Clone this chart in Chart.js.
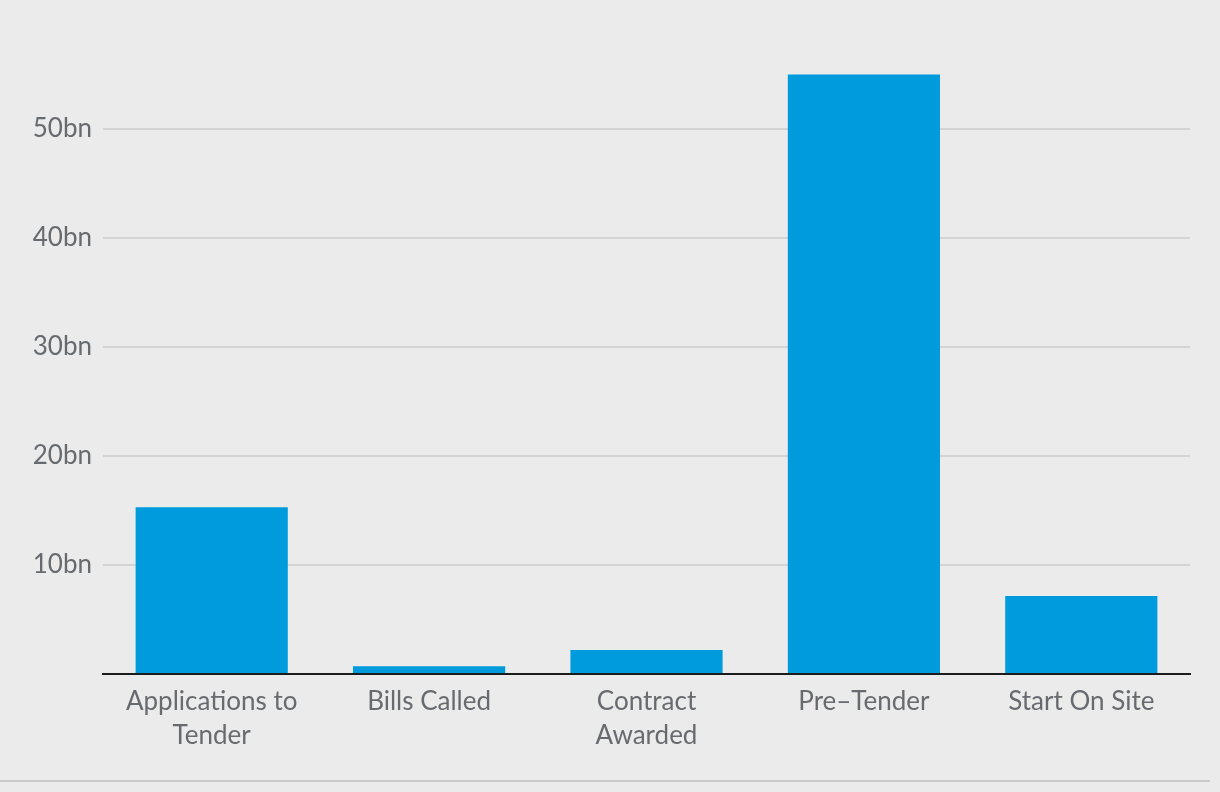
<!DOCTYPE html>
<html>
<head>
<meta charset="utf-8">
<script src="https://cdn.jsdelivr.net/npm/chart.js@4"></script>
<style>
  html, body { margin: 0; padding: 0; background: #ebebeb; }
  #wrap { width: 1220px; height: 792px; position: relative; }
</style>
</head>
<body>
<div id="wrap"><canvas id="barChart"></canvas></div>
<script>
const categories = [["Applications to", "Tender"], "Bills Called", ["Contract", "Awarded"], "Pre–Tender", "Start On Site"];
const values = [15.3, 0.7, 2.2, 55.0, 7.15];
const yTicks = [10, 20, 30, 40, 50];

// line under the whole chart
const bottomRule = {
  id: "bottomRule",
  afterDraw(chart) {
    const ctx = chart.ctx;
    ctx.save();
    ctx.strokeStyle = "#c9c9c9";
    ctx.lineWidth = 2;
    ctx.beginPath();
    ctx.moveTo(0, 781);
    ctx.lineTo(1210, 781);
    ctx.stroke();
    ctx.restore();
  }
};

Chart.defaults.font.family = "Lato, 'Open Sans', sans-serif";

new Chart(document.getElementById("barChart"), {
  type: "bar",
  data: {
    labels: categories,
    datasets: [{
      data: values,
      backgroundColor: "#009bdd",
      categoryPercentage: 0.7,
      barPercentage: 1.0
    }]
  },
  options: {
    responsive: true,
    maintainAspectRatio: false,
    animation: false,
    layout: { padding: { top: 20, right: 30, left: 0, bottom: 0 } },
    plugins: { legend: { display: false }, tooltip: { enabled: false } },
    scales: {
      x: {
        grid: { display: false },
        border: { display: true, color: "#1c1c1c", width: 2 },
        ticks: { color: "#676a6e", font: { size: 26, lineHeight: 1.3 }, padding: 3, maxRotation: 0 },
        afterFit(scale) { scale.height = 118; }
      },
      y: {
        min: 0,
        max: 60,
        border: { display: false },
        grid: {
          color: ctx => (yTicks.includes(ctx.tick.value) ? "#d4d4d4" : "rgba(0,0,0,0)"),
          lineWidth: 2,
          drawTicks: false
        },
        ticks: {
          stepSize: 10,
          color: "#676a6e",
          font: { size: 26 },
          padding: 11,
          callback: v => (yTicks.includes(v) ? v + "bn" : "")
        },
        afterFit(scale) {
          scale.width = 103;
          scale.paddingTop = 0;
          scale.paddingBottom = 0;
        }
      }
    }
  },
  plugins: [bottomRule]
});
</script>
</body>
</html>
